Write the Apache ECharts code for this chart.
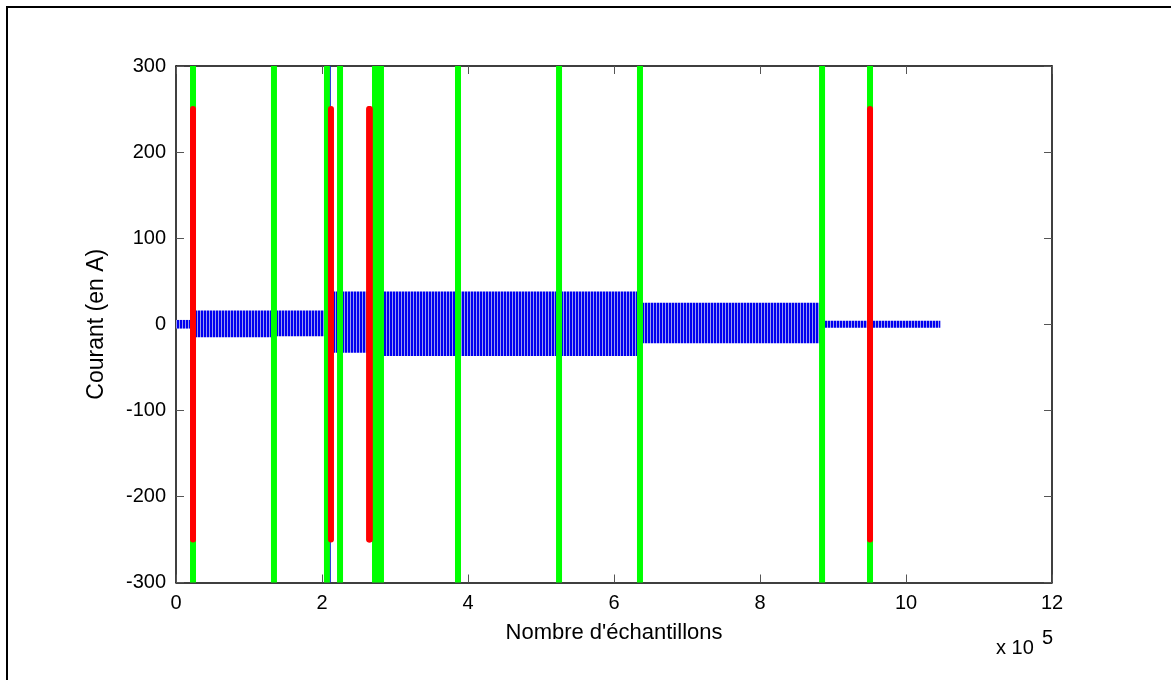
<!DOCTYPE html>
<html><head><meta charset="utf-8">
<script src="https://cdn.jsdelivr.net/npm/echarts@6/dist/echarts.min.js"></script>
<style>html,body{margin:0;padding:0;background:#fff}#c{width:1171px;height:680px}</style>
</head><body><div id="c"></div>
<script>
// ---- data ----
const xTicks = [0, 2, 4, 6, 8, 10, 12];          // x 10^5
const yTicks = [-300, -200, -100, 0, 100, 200, 300];
// blue current signal, envelope segments (x in 1e5 samples, current in A)
const blueStart = [0, 0.24, 1.35, 2.13, 2.66, 6.36, 8.86];
const blueEnd   = [0.22, 1.33, 2.06, 2.65, 6.35, 8.84, 10.47];
const blueLow   = [-5, -15, -14, -33, -37, -22, -4];
const blueHigh  = [5, 16, 16, 38, 38, 25, 4];
const spikeX = [2.115];
const spikeLow = -300, spikeHigh = 300;
// green markers (full height)
const greenX = [0.233, 1.342, 2.068, 2.247, 2.726, 2.808, 3.863, 5.247, 6.356, 8.85, 9.507];
const greenLow = -300, greenHigh = 300;
// red markers
const redX = [0.233, 2.123, 2.645, 2.655, 9.507];
const redLow = -250, redHigh = 250;

// ---- stripe pattern for the dense blue oscillation ----
const pc = document.createElement('canvas');
pc.width = 3; pc.height = 4;
const pctx = pc.getContext('2d');
pctx.fillStyle = '#0000f0'; pctx.fillRect(0, 0, 3, 4);
pctx.fillStyle = '#9a9af0'; pctx.fillRect(2, 0, 1, 4);

const chart = echarts.init(document.getElementById('c'), null, {renderer: 'canvas'});
const font = 'Liberation Sans, Arial, sans-serif';

function vline(color, width, cap) {
  return function (params, api) {
    const p1 = api.coord([api.value(0), api.value(1)]);
    const p2 = api.coord([api.value(0), api.value(2)]);
    return {type: 'line', shape: {x1: p1[0], y1: p1[1], x2: p2[0], y2: p2[1]},
      style: {stroke: color, lineWidth: width, lineCap: cap}};
  };
}

const axisCommon = {
  min: 0, max: 12, interval: 2,
  axisLine: {show: true, onZero: false, lineStyle: {color: '#000', width: 1.5}},
  axisTick: {show: true, inside: true, length: 8, lineStyle: {color: '#555'}},
  splitLine: {show: false}
};

chart.setOption({
  animation: false,
  backgroundColor: '#fff',
  grid: {left: 176, top: 66, right: 119, bottom: 97.5, containLabel: false},
  xAxis: [
    Object.assign({}, axisCommon, {type: 'value', position: 'bottom',
      axisLabel: {show: true, margin: 11, fontFamily: font, fontSize: 20, color: '#000',
        formatter: v => xTicks.includes(v) ? String(v) : ''},
      name: "Nombre d'échantillons", nameLocation: 'middle', nameGap: 39,
      nameTextStyle: {fontFamily: font, fontSize: 22, color: '#000'}}),
    Object.assign({}, axisCommon, {type: 'value', position: 'top', axisLabel: {show: false}})
  ],
  yAxis: [
    Object.assign({}, axisCommon, {type: 'value', position: 'left', min: -300, max: 300, interval: 100,
      axisLabel: {show: true, margin: 10, fontFamily: font, fontSize: 20, color: '#000',
        formatter: v => yTicks.includes(v) ? String(v) : ''},
      name: 'Courant (en A)', nameLocation: 'middle', nameGap: 68, nameRotate: 90,
      nameTextStyle: {fontFamily: font, fontSize: 23, color: '#000'}}),
    Object.assign({}, axisCommon, {type: 'value', position: 'right', min: -300, max: 300, interval: 100,
      axisLabel: {show: false}})
  ],
  graphic: [
    {type: 'rect', shape: {x: 7, y: 7, width: 1300, height: 800},
      style: {fill: null, stroke: '#000', lineWidth: 2}, silent: true, z: 100},
    {type: 'text', left: 996, top: 638,
      style: {text: 'x 10', fontFamily: font, fontSize: 20, fill: '#000'}},
    {type: 'text', left: 1042, top: 628,
      style: {text: '5', fontFamily: font, fontSize: 20, fill: '#000'}}
  ],
  series: [
    {type: 'custom', name: 'courant', xAxisIndex: 0, yAxisIndex: 0, z: 2,
      data: blueStart.map((s, i) => [s, blueEnd[i], blueLow[i], blueHigh[i]]),
      encode: {x: [0, 1], y: [2, 3]},
      renderItem: function (params, api) {
        const a = api.coord([api.value(0), api.value(3)]);
        const b = api.coord([api.value(1), api.value(2)]);
        return {type: 'rect', shape: {x: a[0], y: a[1], width: b[0] - a[0], height: b[1] - a[1]},
          style: {fill: {image: pc, repeat: 'repeat'}}};
      }},
    {type: 'custom', name: 'vert', z: 3,
      data: greenX.map(x => [x, greenLow, greenHigh]),
      encode: {x: 0, y: [1, 2]},
      renderItem: vline('#00ff00', 6, 'butt')},
    {type: 'custom', name: 'pic', z: 4,
      data: spikeX.map(x => [x, spikeLow, spikeHigh]),
      encode: {x: 0, y: [1, 2]},
      renderItem: vline('#1030d0', 1, 'butt')},
    {type: 'custom', name: 'rouge', z: 5,
      data: redX.map(x => [x, redLow, redHigh]),
      encode: {x: 0, y: [1, 2]},
      renderItem: vline('#ff0000', 6, 'round')}
  ]
});
</script>
</body></html>
